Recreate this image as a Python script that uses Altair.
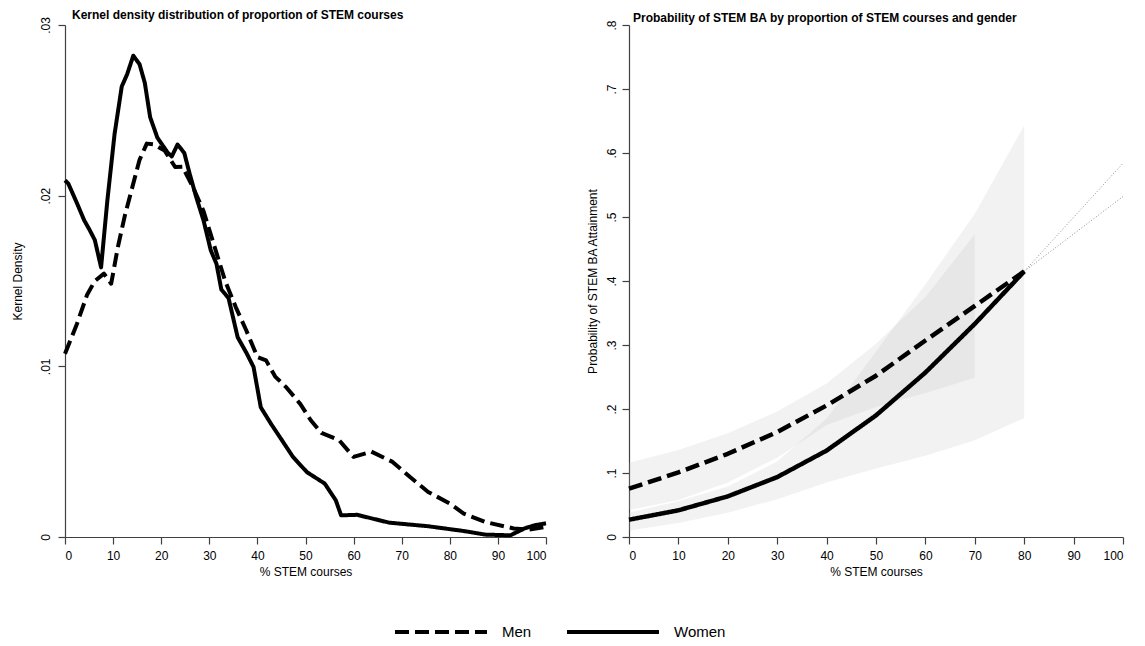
import altair as alt
import pandas as pd

FONT = "Liberation Sans"

# ---------------- Left panel: kernel densities ----------------
kd_women_x = [0, 0.7, 2.5, 4, 5.1, 6.2, 7.5, 8.8, 10.3, 11.8, 12.9, 14.2, 15.5, 16.6,
              17.7, 19.2, 21.4, 22.2, 23.4, 24.8, 25.9, 27.3, 28.8, 30.3, 31.5, 32.5,
              34, 35.9, 37.7, 39.2, 40.7, 42.9, 45.1, 47.4, 50.3, 54, 56.3, 57.4,
              60.7, 67.4, 75.5, 82.9, 87.4, 92.6, 95.5, 97.8, 100]
kd_women_y = [0.0209, 0.0207, 0.01955, 0.01855, 0.0180, 0.0174, 0.0158, 0.0197, 0.0236,
              0.0264, 0.0271, 0.0282, 0.0277, 0.0266, 0.0246, 0.0234, 0.0225, 0.0223,
              0.0230, 0.0225, 0.0213, 0.0199, 0.01855, 0.0168, 0.0160, 0.0145, 0.0140,
              0.0117, 0.0108, 0.00996, 0.0076, 0.0066, 0.00567, 0.00469, 0.0038,
              0.00313, 0.00215, 0.00127, 0.0013, 0.00084, 0.00063, 0.00035, 0.00014,
              0.0001, 0.0005, 0.0007, 0.0008]
kd_men_x = [0, 2.5, 4.6, 6.2, 8.1, 9.6, 11, 12.5, 14, 15.5, 17, 18.5, 20.7, 22.9, 24.4,
            26.6, 28.8, 31.1, 33.3, 35.5, 37.7, 40, 41.8, 43.7, 45.9, 48.9, 51.1, 53.3,
            57, 60, 63.7, 68.1, 71.8, 75.5, 80, 82.9, 87.4, 93.3, 96.3, 100]
kd_men_y = [0.01074, 0.0125, 0.0142, 0.0150, 0.01543, 0.01484, 0.0170, 0.0189, 0.0205,
            0.0221, 0.02305, 0.0230, 0.02265, 0.02168, 0.0217, 0.0205, 0.0191, 0.0170,
            0.0150, 0.01347, 0.0121, 0.01054, 0.01035, 0.0094, 0.0088, 0.0078, 0.00684,
            0.0061, 0.00567, 0.00469, 0.0050, 0.0044, 0.0035, 0.00264, 0.00196,
            0.00137, 0.00088, 0.0005, 0.00043, 0.0006]

# ---------------- Right panel: predicted probabilities ----------------
pp_x = [0, 10, 20, 30, 40, 50, 60, 70, 80]
men_prob = [0.0755, 0.101, 0.130, 0.164, 0.2055, 0.252, 0.307, 0.361, 0.415]
women_prob = [0.027, 0.0417, 0.0635, 0.0936, 0.135, 0.190, 0.257, 0.333, 0.415]

men_ci_x = [0, 10, 20, 30, 40, 50, 60, 70]
men_lo = [0.042, 0.058, 0.085, 0.124, 0.175, 0.203, 0.225, 0.249]
men_hi = [0.116, 0.136, 0.162, 0.196, 0.240, 0.302, 0.375, 0.473]
women_ci_x = [0, 10, 20, 30, 40, 50, 60, 70, 80]
women_lo = [0.010, 0.022, 0.038, 0.059, 0.085, 0.107, 0.127, 0.151, 0.186]
women_hi = [0.038, 0.056, 0.079, 0.118, 0.185, 0.290, 0.395, 0.505, 0.643]

ext_x = [80, 100]
men_ext = [0.415, 0.532]
women_ext = [0.415, 0.584]

groups = ["Men", "Women"]

kd = pd.concat([
    pd.DataFrame({"x": kd_men_x, "y": kd_men_y, "g": "Men"}),
    pd.DataFrame({"x": kd_women_x, "y": kd_women_y, "g": "Women"}),
])
pp = pd.concat([
    pd.DataFrame({"x": pp_x, "y": men_prob, "g": "Men"}),
    pd.DataFrame({"x": pp_x, "y": women_prob, "g": "Women"}),
])
ci = pd.concat([
    pd.DataFrame({"x": men_ci_x, "lo": men_lo, "hi": men_hi, "g": "Men"}),
    pd.DataFrame({"x": women_ci_x, "lo": women_lo, "hi": women_hi, "g": "Women"}),
])
ext = pd.concat([
    pd.DataFrame({"x": ext_x, "y": men_ext, "g": "Men"}),
    pd.DataFrame({"x": ext_x, "y": women_ext, "g": "Women"}),
])

dash_scale = alt.Scale(domain=groups, range=[[14, 6], [1, 0]])
legend = alt.Legend(
    title=None, orient="none", direction="horizontal", legendX=328, legendY=559,
    symbolType="stroke", symbolSize=8464, symbolStrokeWidth=4,
    symbolStrokeColor="black", labelFontSize=15, labelFont=FONT, labelColor="black",
    labelOffset=13, columnPadding=27,
)

label_expr = "datum.value == 0 ? '0' : replace(format(datum.value, '.2~f'), '0.', '.')"

xaxis = alt.Axis(values=list(range(0, 101, 10)), title="% STEM courses", format="d")

left_line = alt.Chart(kd).mark_line(
    color="black", strokeWidth=4, strokeCap="butt", strokeJoin="round"
).encode(
    x=alt.X("x:Q", scale=alt.Scale(domain=[0, 100], nice=False), axis=xaxis),
    y=alt.Y("y:Q", scale=alt.Scale(domain=[0, 0.03], nice=False),
            axis=alt.Axis(values=[0, 0.01, 0.02, 0.03], labelExpr=label_expr,
                          title="Kernel Density", labelPadding=5.5, titlePadding=15.5)),
    strokeDash=alt.StrokeDash("g:N", scale=dash_scale, legend=legend),
    detail="g:N",
)
left = left_line.properties(
    width=481, height=512,
    title=alt.TitleParams("Kernel density distribution of proportion of STEM courses",
                          anchor="start", frame="group", dx=7, offset=-5, fontSize=12,
                          fontWeight="bold", font=FONT, color="black"),
)

yscale_r = alt.Scale(domain=[0, 0.8], nice=False)
xscale_r = alt.Scale(domain=[0, 100], nice=False)

bands = alt.Chart(ci).mark_area(color="#bfbfbf", opacity=0.2).encode(
    x=alt.X("x:Q", scale=xscale_r, axis=xaxis),
    y=alt.Y("lo:Q", scale=yscale_r,
            axis=alt.Axis(values=[i / 10 for i in range(9)], labelExpr=label_expr,
                          title="Probability of STEM BA Attainment",
                          labelPadding=4, titlePadding=6)),
    y2="hi:Q",
    detail="g:N",
)
dots = alt.Chart(ext).mark_line(color="#8c8c8c", strokeWidth=1, strokeDash=[1, 2]).encode(
    x=alt.X("x:Q", scale=xscale_r),
    y=alt.Y("y:Q", scale=yscale_r),
    detail="g:N",
)
lines = alt.Chart(pp).mark_line(
    color="black", strokeWidth=4.5, strokeCap="butt", strokeJoin="round"
).encode(
    x=alt.X("x:Q", scale=xscale_r),
    y=alt.Y("y:Q", scale=yscale_r),
    strokeDash=alt.StrokeDash("g:N", scale=dash_scale, legend=legend),
    detail="g:N",
)
right = alt.layer(bands, dots, lines).properties(
    width=494, height=512,
    title=alt.TitleParams("Probability of STEM BA by proportion of STEM courses and gender",
                          anchor="start", frame="group", dx=4, offset=-5, fontSize=12,
                          fontWeight="bold", font=FONT, color="black"),
)

chart = alt.hconcat(left, right, spacing=38).properties(
    padding={"left": 3, "top": 0, "right": 0, "bottom": 0}
).configure_view(stroke=None).configure_axis(
    grid=False, tickSize=7, labelFont=FONT, titleFont=FONT, labelFontSize=12,
    titleFontSize=12, titleFontWeight="normal", labelColor="black", titleColor="black",
    domainColor="#404040", tickColor="#404040", domainWidth=1.2, tickWidth=1.2,
).configure_axisX(
    labelPadding=6, titlePadding=5,
).configure_axisY(
    labelAngle=270, labelAlign="center", labelBaseline="bottom",
)

chart.save("out.html", embed_options={"renderer": "svg", "actions": False})
